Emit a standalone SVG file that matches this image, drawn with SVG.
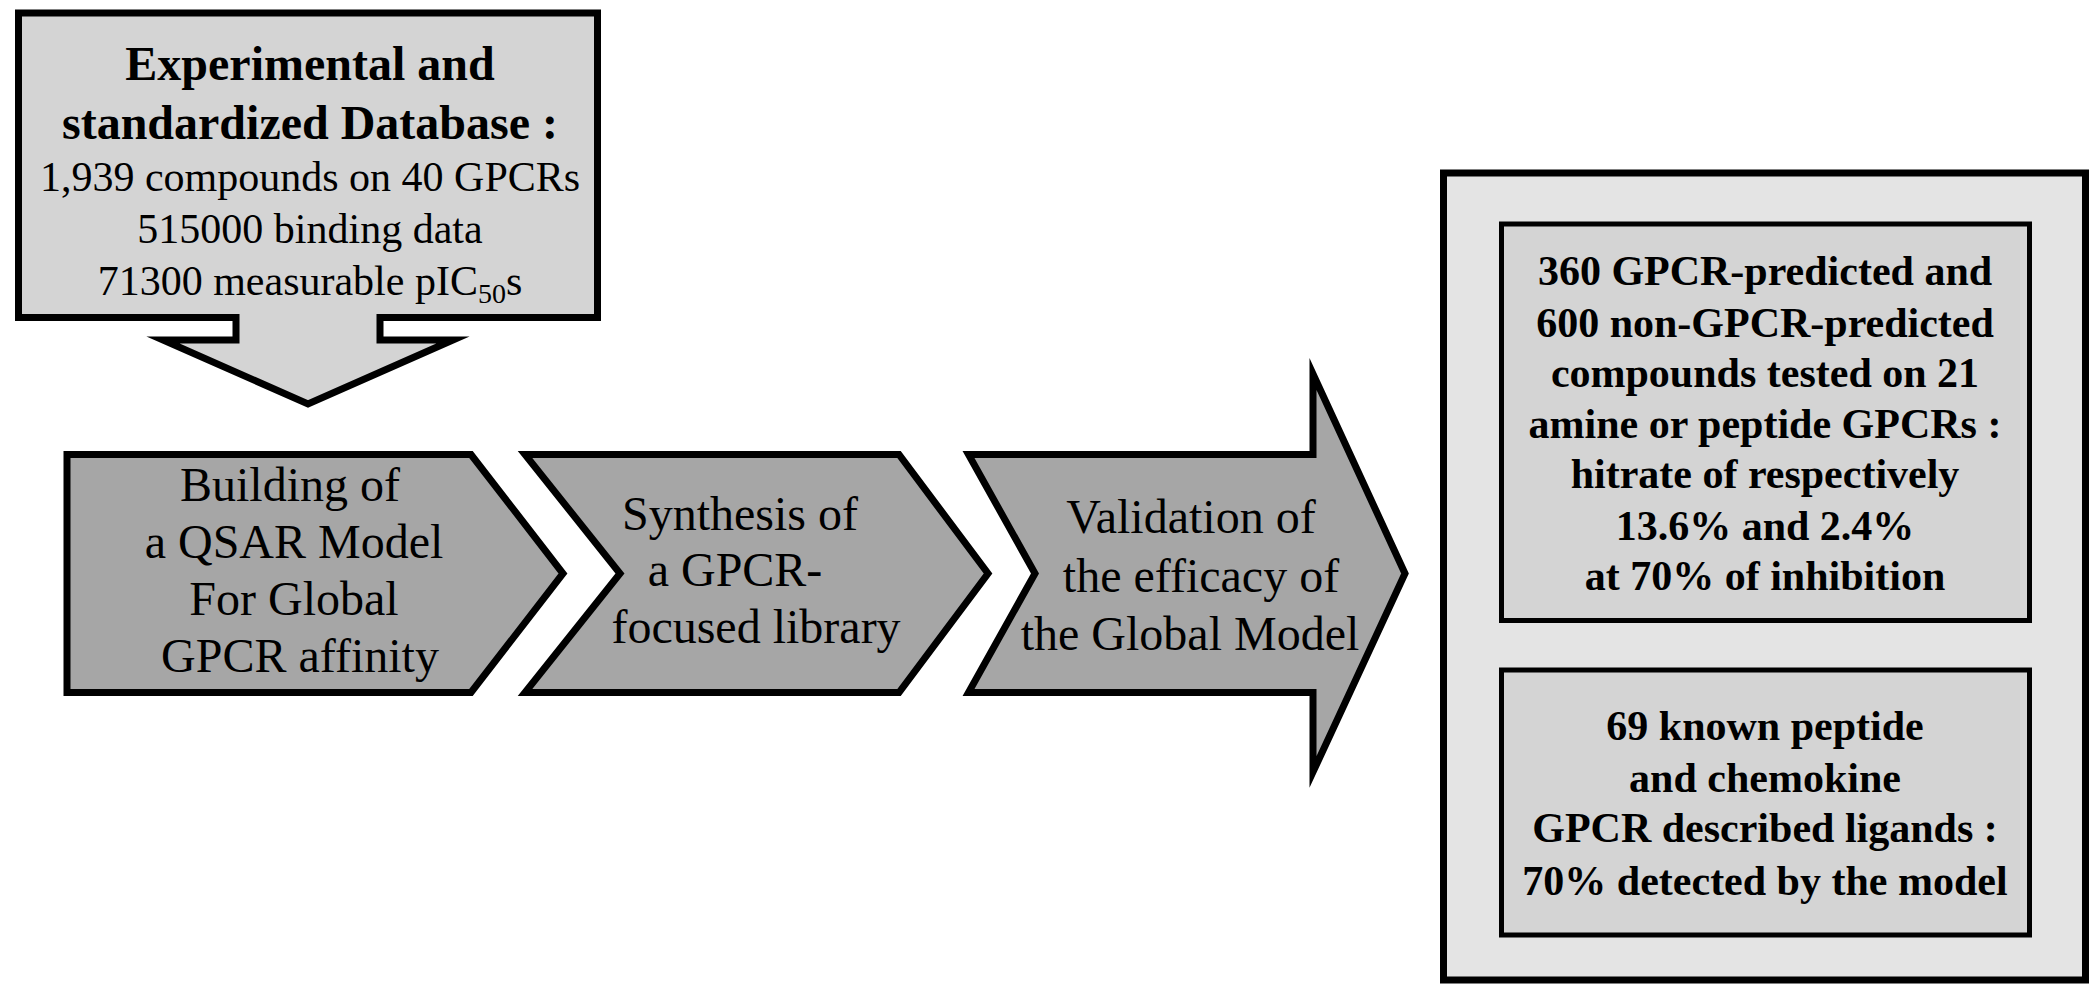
<svg xmlns="http://www.w3.org/2000/svg" width="2100" height="1005" viewBox="0 0 2100 1005">
<style>
text{font-family:"Liberation Serif","Times New Roman",serif;fill:#000;text-anchor:middle}
.reg{font-size:42px}
.bold{font-size:48px;font-weight:bold}
.chev{font-size:48px}
.rb{font-size:42px;font-weight:bold}
.db{fill:#d4d4d4;stroke:#000;stroke-width:7;stroke-linejoin:miter;stroke-miterlimit:10}
.step{fill:#a6a6a6;stroke:#000;stroke-width:7;stroke-linejoin:miter;stroke-miterlimit:10}
.panel{fill:#e4e4e4;stroke:#000;stroke-width:7}
.inner{fill:#d4d4d4;stroke:#000;stroke-width:5}
</style>
<rect width="2100" height="1005" fill="#fff"/>
<g id="connectors"/>
<g id="database">
<path class="db" d="M18.5,13 H597.5 V317.5 H380 V340 H453 L308,404 L163,340 H236 V317.5 H18.5 Z"/>
<text class="bold" x="310" y="80">Experimental and</text>
<text class="bold" x="310" y="139">standardized Database :</text>
<text class="reg" x="310" y="191">1,939 compounds on 40 GPCRs</text>
<text class="reg" x="310" y="243">515000 binding data</text>
<text class="reg" x="310" y="295">71300 measurable pIC<tspan font-size="28" dy="8">50</tspan><tspan dy="-8">s</tspan></text>
</g>
<g id="step1">
<path class="step" d="M67,454.5 H471 L563,573.5 L471,692.5 H67 Z"/>
<text class="chev" x="290" y="501">Building of</text>
<text class="chev" x="294" y="558">a QSAR Model</text>
<text class="chev" x="294" y="615">For Global</text>
<text class="chev" x="300" y="672">GPCR affinity</text>
</g>
<g id="step2">
<path class="step" d="M525,454.5 H899 L988,573.5 L899,692.5 H525 L620,573.5 Z"/>
<text class="chev" x="740" y="530">Synthesis of</text>
<text class="chev" x="735" y="586">a GPCR-</text>
<text class="chev" x="756" y="643">focused library</text>
</g>
<g id="step3">
<path class="step" d="M968.5,454.5 H1313 V374 L1405,573.5 L1313,772 V692.5 H968.5 L1035,573.5 Z"/>
<text class="chev" x="1191" y="533">Validation of</text>
<text class="chev" x="1201" y="592">the efficacy of</text>
<text class="chev" x="1190" y="650">the Global Model</text>
</g>
<g id="results">
<rect class="panel" x="1443.5" y="173" width="642" height="807"/>
</g>
<g id="result1">
<rect class="inner" x="1501.5" y="224" width="528" height="396.5"/>
<text class="rb" x="1765" y="285">360 GPCR-predicted and</text>
<text class="rb" x="1765" y="337">600 non-GPCR-predicted</text>
<text class="rb" x="1765" y="387">compounds tested on 21</text>
<text class="rb" x="1765" y="438">amine or peptide GPCRs :</text>
<text class="rb" x="1765" y="488">hitrate of respectively</text>
<text class="rb" x="1765" y="540">13.6% and 2.4%</text>
<text class="rb" x="1765" y="590">at 70% of inhibition</text>
</g>
<g id="result2">
<rect class="inner" x="1501.5" y="670" width="528" height="265"/>
<text class="rb" x="1765" y="740">69 known peptide</text>
<text class="rb" x="1765" y="792">and chemokine</text>
<text class="rb" x="1765" y="842">GPCR described ligands :</text>
<text class="rb" x="1765" y="895">70% detected by the model</text>
</g>
</svg>
